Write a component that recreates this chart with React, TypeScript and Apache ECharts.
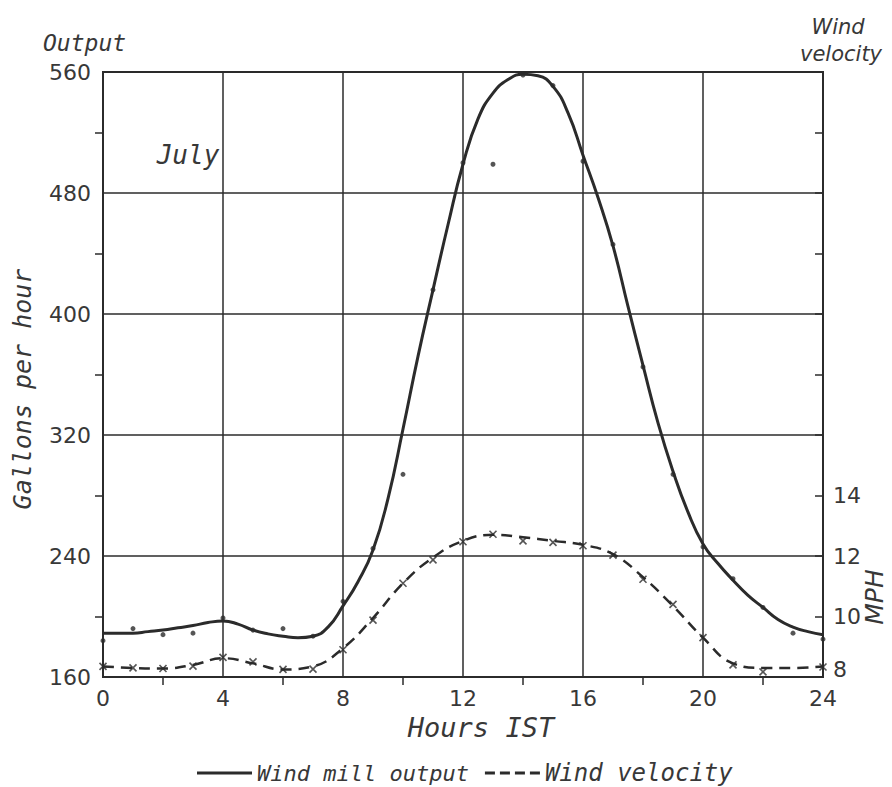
import React, { useEffect, useRef } from "react";
import * as echarts from "echarts";

// hours of observation
const hours = [0, 1, 2, 3, 4, 5, 6, 7, 8, 9, 10, 11, 12, 13, 14, 15, 16, 17, 18, 19, 20, 21, 22, 23, 24];
const curveHours = [0, 0.5, 1, 1.5, 2, 2.5, 3, 3.5, 4, 4.5, 5, 5.5, 6, 6.5, 7, 7.5, 8, 8.5, 9, 9.5, 10, 10.5, 11, 11.5, 12, 12.5, 13, 13.5, 14, 14.5, 15, 15.5, 16, 16.5, 17, 17.5, 18, 18.5, 19, 19.5, 20, 20.5, 21, 21.5, 22, 22.5, 23, 23.5, 24];
// drawn output curve, gallons per hour
const outputCurve = [189, 189, 189, 190, 191, 192.5, 194, 196, 197, 195, 191, 188.5, 187, 186, 187, 193, 207, 223, 244, 278, 324, 372, 416, 459, 499, 529, 546, 555, 558.5, 557.5, 550.5, 533, 505, 477, 445, 405, 366, 328, 296, 269, 248, 235, 224, 214, 206, 198, 193, 190, 188];
// observed points, gallons per hour
const outputObs = [184, 192, 188, 189, 199, 191, 192, 187, 210, 245, 294, 416, 500, 499, 558, 551, 501, 446, 365, 294, 246, 225, 206, 189, 185];
// drawn wind curve, mph
const windCurve = [8.35, 8.3, 8.28, 8.4, 8.62, 8.45, 8.25, 8.35, 8.95, 9.95, 11.1, 11.95, 12.5, 12.7, 12.62, 12.5, 12.37, 12.06, 11.3, 10.35, 9.3, 8.45, 8.3, 8.3, 8.35];
// observed points, mph
const windObs = [8.35, 8.3, 8.28, 8.36, 8.65, 8.5, 8.25, 8.26, 8.9, 9.88, 11.1, 11.87, 12.47, 12.72, 12.5, 12.45, 12.34, 12.03, 11.23, 10.4, 9.3, 8.4, 8.17, 7.85, 8.33];

const ink = "#2b2b2b";
const textInk = "#383838";
const mono = '"DejaVu Sans Mono"';
const sans = '"DejaVu Sans"';

export default function App() {
  const ref = useRef<HTMLDivElement>(null);
  useEffect(() => {
    if (!ref.current) return;
    const chart = echarts.init(ref.current, null, { renderer: "svg" });
    const pair = (xs: number[], ys: number[]) => xs.map((x, i) => [x, ys[i]]);
    chart.setOption({
      animation: false,
      backgroundColor: "#ffffff",
      grid: {
        left: 103,
        right: 69,
        top: 72,
        bottom: 110,
        show: true,
        borderColor: ink,
        borderWidth: 2,
        backgroundColor: "transparent",
      },
      xAxis: {
        type: "value",
        min: 0,
        max: 24,
        interval: 4,
        axisLine: { show: true, lineStyle: { color: ink, width: 2 } },
        axisTick: { show: false },
        minorTick: { show: true, splitNumber: 2, length: 8, lineStyle: { color: ink, width: 1.5 } },
        axisLabel: { color: textInk, fontFamily: sans, fontSize: 22, margin: 10 },
        splitLine: { show: true, lineStyle: { color: ink, width: 1.5 } },
      },
      yAxis: [
        {
          type: "value",
          min: 160,
          max: 560,
          interval: 80,
          position: "left",
          axisLine: { show: true, lineStyle: { color: ink, width: 2 } },
          axisTick: { show: false },
          minorTick: { show: true, splitNumber: 2, length: 8, lineStyle: { color: ink, width: 1.5 } },
          axisLabel: { color: textInk, fontFamily: sans, fontSize: 22, margin: 12 },
          splitLine: { show: true, lineStyle: { color: ink, width: 1.5 } },
        },
        {
          type: "value",
          min: 8,
          max: 28,
          interval: 2,
          position: "right",
          axisLine: { show: true, lineStyle: { color: ink, width: 2 } },
          axisTick: { show: true, inside: true, length: 8, lineStyle: { color: ink, width: 1.5 } },
          axisLabel: {
            color: textInk,
            fontFamily: sans,
            fontSize: 22,
            margin: 10,
            formatter: (v: number) => (v > 14 ? "" : v === 8 ? "{l|8}" : String(v)),
            rich: { l: { color: textInk, fontFamily: sans, fontSize: 22, padding: [0, 0, 16, 0] } },
          },
          splitLine: { show: false },
        },
      ],
      legend: {
        left: 192,
        top: 756,
        itemWidth: 55,
        itemHeight: 3,
        itemGap: 16,
        selectedMode: false,
        textStyle: {
          color: textInk,
          fontFamily: mono,
          fontStyle: "italic",
          fontSize: 22,
          rich: { b: { color: textInk, fontFamily: mono, fontStyle: "italic", fontSize: 24 } },
        },
        formatter: (name: string) => (name === "Wind velocity" ? "{b|" + name + "}" : name),
        data: [
          { name: "Wind mill output", icon: "path://M0,0h55v3h-55z", itemStyle: { color: ink } },
          {
            name: "Wind velocity",
            icon: "path://M0,0h10v3h-10z M15,0h10v3h-10z M30,0h10v3h-10z M45,0h10v3h-10z",
            itemStyle: { color: ink },
          },
        ],
      },
      series: [
        {
          name: "Wind mill output",
          type: "line",
          yAxisIndex: 0,
          data: pair(curveHours, outputCurve),
          smooth: 0.5,
          symbol: "none",
          lineStyle: { color: ink, width: 3 },
          itemStyle: { color: ink },
          z: 5,
        },
        {
          name: "Output observed",
          type: "scatter",
          yAxisIndex: 0,
          data: pair(hours, outputObs),
          symbol: "circle",
          symbolSize: 5,
          itemStyle: { color: ink },
          z: 6,
        },
        {
          name: "Wind velocity",
          type: "line",
          yAxisIndex: 1,
          data: pair(hours, windCurve),
          smooth: 0.45,
          symbol: "none",
          lineStyle: { color: ink, width: 2.5, type: [11, 7] },
          itemStyle: { color: ink },
          z: 5,
        },
        {
          name: "Wind observed",
          type: "scatter",
          yAxisIndex: 1,
          data: pair(hours, windObs),
          symbol: "path://M0,0L10,10M10,0L0,10",
          symbolSize: 7,
          itemStyle: { color: "transparent", borderColor: ink, borderWidth: 1.6 },
          z: 6,
        },
      ],
      graphic: [
        {
          type: "text",
          left: 43,
          top: 31,
          style: { text: "Output", fill: textInk, fontFamily: mono, fontStyle: "italic", fontSize: 23 },
        },
        {
          type: "text",
          x: 838,
          y: 27,
          style: { text: "Wind", fill: textInk, fontFamily: sans, fontStyle: "italic", fontSize: 21, align: "center", verticalAlign: "middle" },
        },
        {
          type: "text",
          x: 841,
          y: 54,
          style: { text: "velocity", fill: textInk, fontFamily: sans, fontStyle: "italic", fontSize: 21, align: "center", verticalAlign: "middle" },
        },
        {
          type: "text",
          x: 188,
          y: 155,
          style: { text: "July", fill: textInk, fontFamily: mono, fontStyle: "italic", fontSize: 26, align: "center", verticalAlign: "middle" },
        },
        {
          type: "text",
          x: 22,
          y: 389,
          rotation: Math.PI / 2,
          style: { text: "Gallons per hour", fill: textInk, fontFamily: mono, fontStyle: "italic", fontSize: 25, align: "center", verticalAlign: "middle" },
        },
        {
          type: "text",
          x: 874,
          y: 597,
          rotation: Math.PI / 2,
          style: { text: "MPH", fill: textInk, fontFamily: sans, fontStyle: "italic", fontSize: 25, align: "center", verticalAlign: "middle" },
        },
        {
          type: "text",
          x: 481,
          y: 727,
          style: { text: "Hours IST", fill: textInk, fontFamily: mono, fontStyle: "italic", fontSize: 27, align: "center", verticalAlign: "middle" },
        },
      ],
    });
    return () => chart.dispose();
  }, []);
  return (
    <div
      ref={ref}
      style={{ position: "absolute", left: 0, top: 0, width: 892, height: 787, background: "#fff" }}
    />
  );
}
